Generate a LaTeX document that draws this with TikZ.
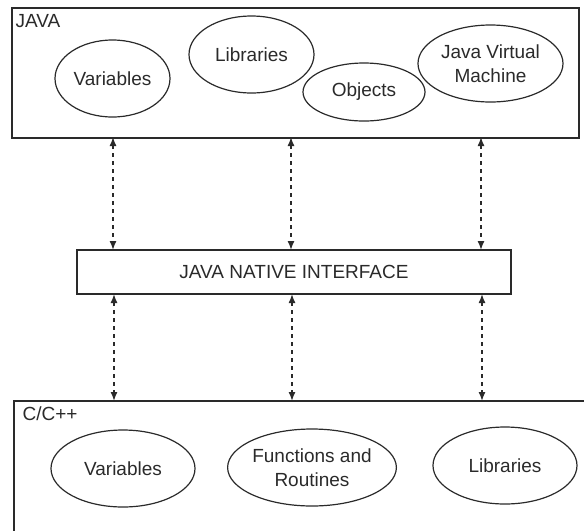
\documentclass[tikz,border=0pt]{standalone}
\usepackage{fontspec}
\setmainfont{Liberation Sans}
\usetikzlibrary{shapes.geometric,arrows.meta}
\definecolor{ink}{HTML}{2A2A2A}
\begin{document}
\begin{tikzpicture}[x=1pt,y=-1pt,
  every node/.style={font=\fontsize{19}{23.5}\selectfont, text=ink},
  frame/.style={draw=ink, line width=1.5pt},
  oval/.style={ellipse, draw=ink, line width=1.2pt, inner sep=0pt, align=center},
  link/.style={draw=ink, line width=1.4pt, dash pattern=on 4pt off 4pt,
     {Latex[length=9pt,width=7pt]}-{Latex[length=9pt,width=7pt]}}]
\useasboundingbox (0,0) rectangle (584,531);
% JAVA box
\node[frame, minimum width=567pt, minimum height=130pt, inner sep=0pt, anchor=north west] (java) at (11,7) {};
\node[anchor=west] (javalbl) at (12,21) {JAVA};
\node[oval, minimum width=115pt, minimum height=77pt] (jvar) at (112.5,78.5) {Variables};
\node[oval, minimum width=125pt, minimum height=77pt] (jlib) at (251.5,54.5) {Libraries};
\node[oval, minimum width=122pt, minimum height=58pt] (jobj) at (364,92) {Objects};
\node[oval, minimum width=145pt, minimum height=77pt] (jvm) at (490.5,63.5) {Java Virtual\\Machine};
% JNI
\node[frame, minimum width=434pt, minimum height=44pt, inner sep=0pt] (jni) at (294,272) {JAVA NATIVE INTERFACE};
% C/C++ box (open to right and bottom)
\coordinate (ctr) at (584,401);
\coordinate (ctl) at (14,401);
\coordinate (cbl) at (14,531);
\draw[draw=ink, line width=1.5pt] (ctr) -- (ctl) -- (cbl);
\node[anchor=west] (clbl) at (19,414) {C/C++};
\node[oval, minimum width=144pt, minimum height=77pt] (cvar) at (123,468.5) {Variables};
\node[oval, minimum width=144pt, minimum height=77pt] (cfun) at (312,467.5) {Functions and\\Routines};
\node[oval, minimum width=144pt, minimum height=77pt] (clib) at (505,465.5) {Libraries};
% connectors
\foreach \x/\n in {113/a,291/b,481/c}{
  \coordinate (jt\n) at (\x,137);
  \coordinate (nt\n) at (\x,250);
  \coordinate (nb\n) at (\x+1,294);
  \coordinate (ct\n) at (\x+1,401);
  \draw[link] (jt\n) -- (nt\n);
  \draw[link] (nb\n) -- (ct\n);
}
\end{tikzpicture}
\end{document}
